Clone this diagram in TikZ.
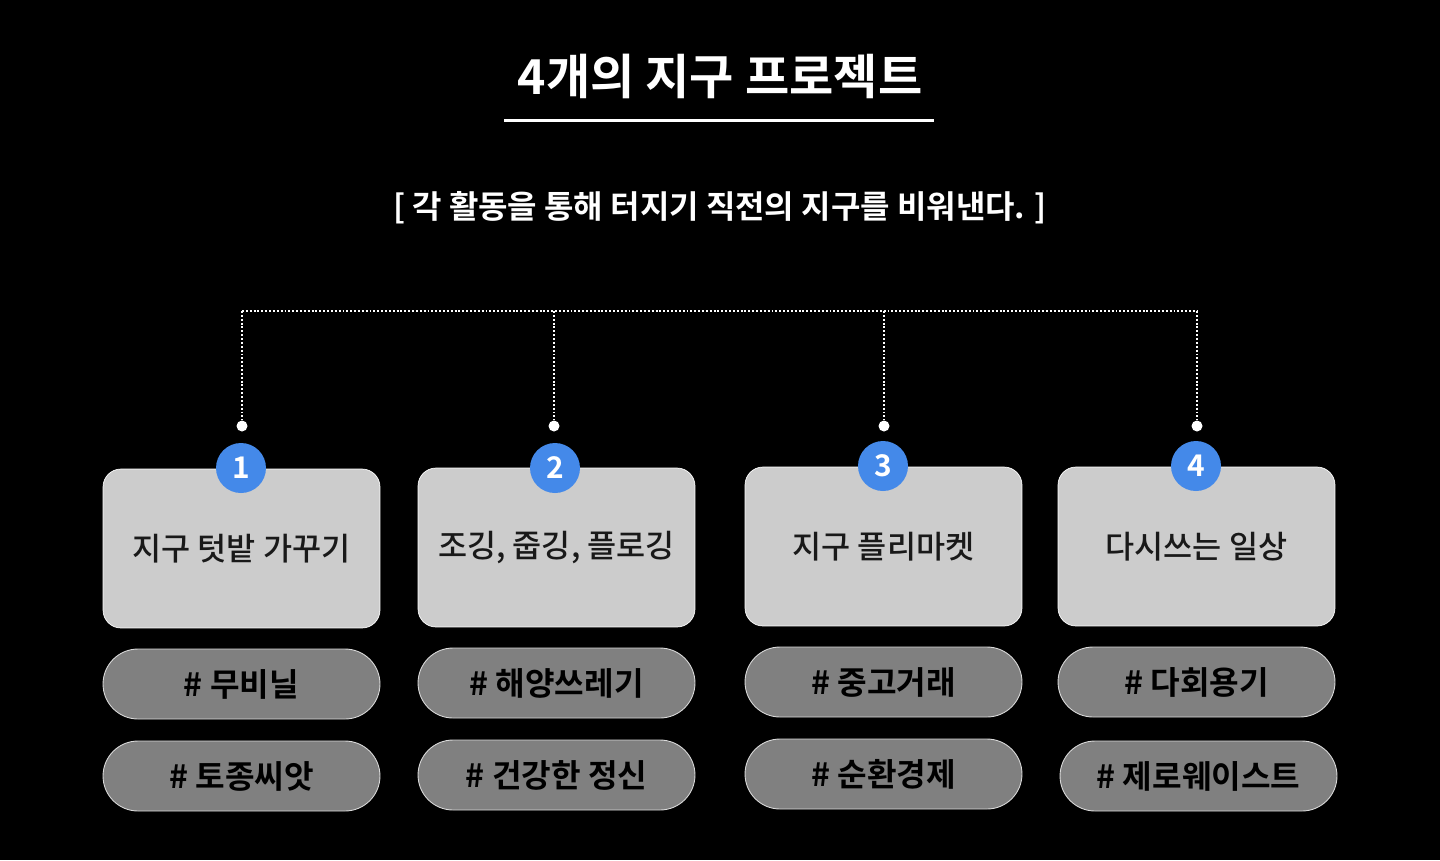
\documentclass[tikz,border=0pt]{standalone}
\usepackage{fontspec}
\setmainfont{Noto Sans CJK KR}[BoldFont={Noto Sans CJK KR Bold}]
\newfontfamily\krmed{Noto Sans CJK KR Medium}
\usepackage{xcolor}
\definecolor{numblue}{HTML}{4489E9}
\definecolor{cardgray}{HTML}{CCCCCC}
\definecolor{taggray}{HTML}{808080}

\tikzset{
  card/.style={draw=white,line width=0.4pt,fill=cardgray,rounded corners=0.36cm,
    minimum width=5.54cm,minimum height=3.18cm,text=black!90,
    font=\krmed\fontsize{18}{22}\selectfont},
  tag/.style={draw=white!85!black,line width=0.5pt,fill=taggray,rounded corners=0.7cm,
    minimum width=5.54cm,minimum height=1.4cm,text=black,
    font=\bfseries\fontsize{18.3}{22}\selectfont},
  badge/.style={circle,fill=numblue,minimum size=1cm,inner sep=0pt,text=white,
    font=\bfseries\fontsize{17}{20}\selectfont},
  pin/.style={circle,fill=white,minimum size=0.22cm,inner sep=0pt},
  dotline/.style={white,line width=1.1pt,dash pattern=on 1.1pt off 1.1pt}
}

\begin{document}
\begin{tikzpicture}[x=0.02cm,y=-0.02cm]
  \fill[black] (0,0) rectangle (1440,860);
  \useasboundingbox (0,0) rectangle (1440,860);

  % title
  \node[text=white,font=\bfseries\fontsize{27.4}{32}\selectfont] (title) at (720,76) {4개의 지구 프로젝트};
  \coordinate (ulineL) at (504,120);
  \coordinate (ulineR) at (934,120);
  \draw[white,line width=1.7pt] (ulineL) -- (ulineR);
  \node[text=white,font=\bfseries\fontsize{18.2}{22}\selectfont] (sub) at (720,208)
    {[ 각 활동을 통해 터지기 직전의 지구를 비워낸다. ]};

  % bracket
  \foreach \i/\x in {1/242,2/554,3/884,4/1197} {
    \coordinate (top\i) at (\x,311);
    \node[pin] (pin\i) at (\x,426) {};
  }
  \draw[dotline] (top1) -- (top4);
  \foreach \i in {1,...,4}
    \draw[dotline] (top\i) -- (pin\i);

  % cards
  \node[card] (card1) at (241.5,548.5) {지구 텃밭 가꾸기};
  \node[card] (card2) at (556.5,547.5) {조깅, 줍깅, 플로깅};
  \node[card] (card3) at (883.5,546.5) {지구 플리마켓};
  \node[card] (card4) at (1196.5,546.5) {다시쓰는 일상};

  \node[badge] (num1) at (241,468) {1};
  \node[badge] (num2) at (555,468) {2};
  \node[badge] (num3) at (883,466) {3};
  \node[badge] (num4) at (1196,466) {4};

  % tags
  \node[tag] (tag1a) at (241.5,684) {\# 무비닐};
  \node[tag] (tag1b) at (241.5,776) {\# 토종씨앗};
  \node[tag] (tag2a) at (556.5,683) {\# 해양쓰레기};
  \node[tag] (tag2b) at (556.5,775) {\# 건강한 정신};
  \node[tag] (tag3a) at (883.5,682) {\# 중고거래};
  \node[tag] (tag3b) at (883.5,774) {\# 순환경제};
  \node[tag] (tag4a) at (1196.5,682) {\# 다회용기};
  \node[tag] (tag4b) at (1198.5,776) {\# 제로웨이스트};
\end{tikzpicture}
\end{document}
